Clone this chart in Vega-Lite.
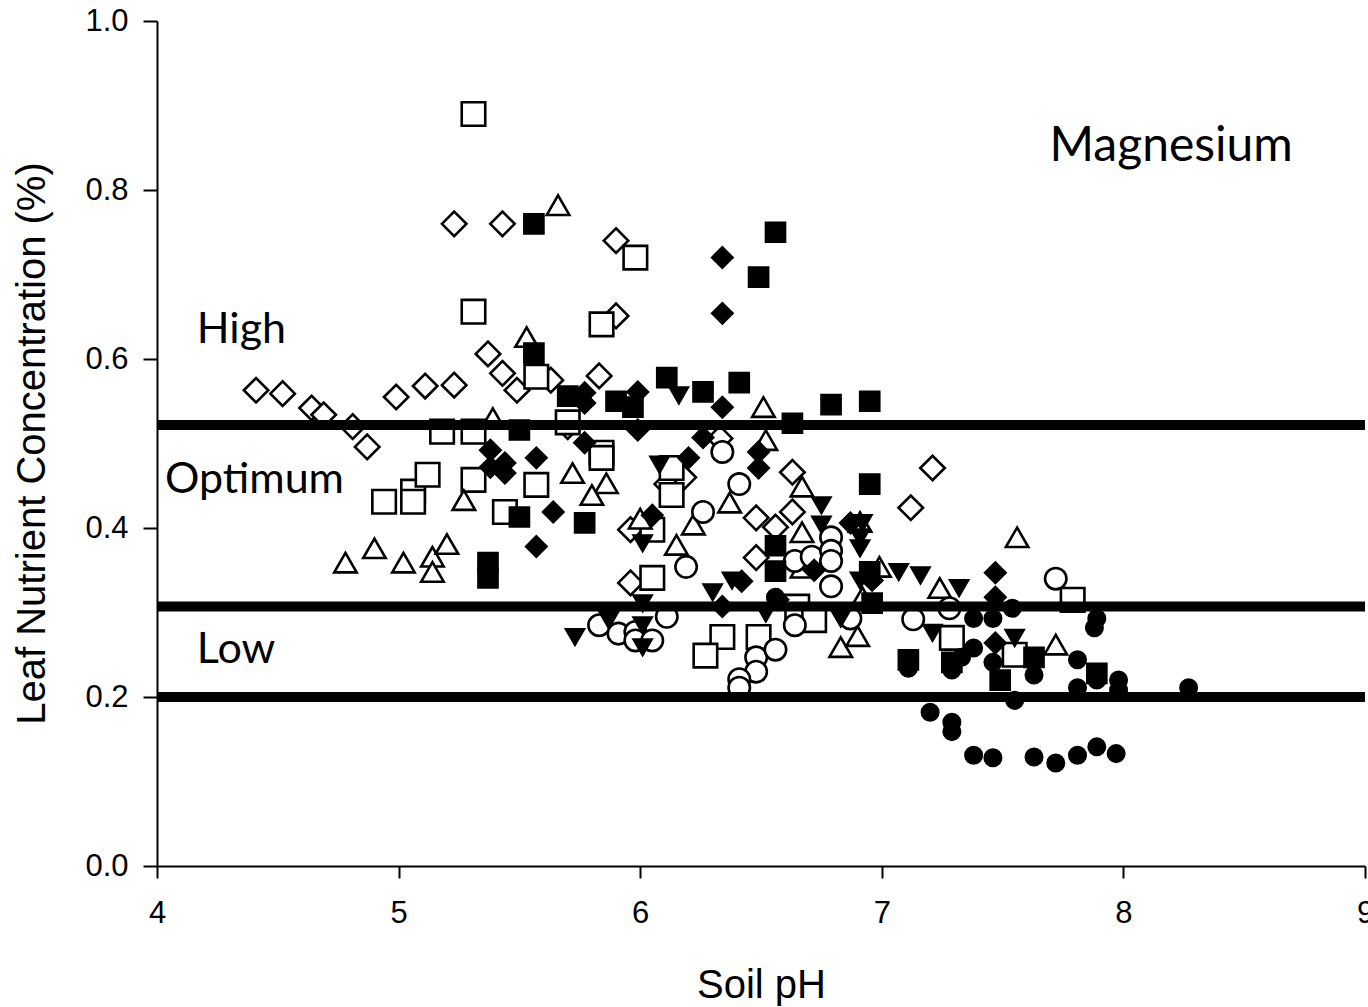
{
  "$schema": "https://vega.github.io/schema/vega-lite/v6.json",
  "width": 1208,
  "height": 845,
  "autosize": {"type": "none"},
  "padding": {"left": 157, "top": 21, "right": 3, "bottom": 141},
  "background": "white",
  "config": {
    "view": {"stroke": null},
    "axis": {
      "grid": false,
      "domainColor": "black",
      "domainWidth": 2,
      "tickColor": "black",
      "tickWidth": 2,
      "labelFont": "Liberation Sans",
      "labelFontSize": 31,
      "labelColor": "black",
      "labelFlush": false,
      "titleFont": "Liberation Sans",
      "titleFontSize": 40,
      "titleFontWeight": "normal",
      "titleColor": "black"
    }
  },
  "datasets": {
    "points": [
      {"pH":4.41,"Mg":0.563,"g":"od"},{"pH":4.52,"Mg":0.559,"g":"od"},{"pH":4.64,"Mg":0.542,"g":"od"},{"pH":4.69,"Mg":0.534,"g":"od"},{"pH":4.81,"Mg":0.520,"g":"od"},{"pH":4.87,"Mg":0.496,"g":"od"},{"pH":4.99,"Mg":0.555,"g":"od"},{"pH":5.11,"Mg":0.568,"g":"od"},{"pH":5.23,"Mg":0.569,"g":"od"},{"pH":5.23,"Mg":0.760,"g":"od"},{"pH":5.43,"Mg":0.760,"g":"od"},{"pH":5.37,"Mg":0.606,"g":"od"},{"pH":5.43,"Mg":0.583,"g":"od"},{"pH":5.49,"Mg":0.563,"g":"od"},{"pH":5.63,"Mg":0.575,"g":"od"},{"pH":5.83,"Mg":0.580,"g":"od"},{"pH":5.90,"Mg":0.651,"g":"od"},{"pH":5.90,"Mg":0.740,"g":"od"},{"pH":5.70,"Mg":0.520,"g":"od"},{"pH":6.33,"Mg":0.506,"g":"od"},{"pH":5.96,"Mg":0.398,"g":"od"},{"pH":6.11,"Mg":0.452,"g":"od"},{"pH":6.18,"Mg":0.460,"g":"od"},{"pH":6.48,"Mg":0.412,"g":"od"},{"pH":5.96,"Mg":0.335,"g":"od"},{"pH":6.48,"Mg":0.365,"g":"od"},{"pH":6.63,"Mg":0.466,"g":"od"},{"pH":6.63,"Mg":0.419,"g":"od"},{"pH":6.56,"Mg":0.401,"g":"od"},{"pH":7.21,"Mg":0.471,"g":"od"},{"pH":7.12,"Mg":0.424,"g":"od"},
      {"pH":5.31,"Mg":0.890,"g":"os"},{"pH":5.31,"Mg":0.656,"g":"os"},{"pH":5.98,"Mg":0.720,"g":"os"},{"pH":5.84,"Mg":0.641,"g":"os"},{"pH":5.57,"Mg":0.579,"g":"os"},{"pH":5.70,"Mg":0.525,"g":"os"},{"pH":5.18,"Mg":0.514,"g":"os"},{"pH":5.31,"Mg":0.514,"g":"os"},{"pH":4.94,"Mg":0.431,"g":"os"},{"pH":5.06,"Mg":0.443,"g":"os"},{"pH":5.06,"Mg":0.431,"g":"os"},{"pH":5.12,"Mg":0.463,"g":"os"},{"pH":5.31,"Mg":0.457,"g":"os"},{"pH":5.44,"Mg":0.419,"g":"os"},{"pH":5.57,"Mg":0.451,"g":"os"},{"pH":5.84,"Mg":0.489,"g":"os"},{"pH":5.84,"Mg":0.483,"g":"os"},{"pH":6.13,"Mg":0.471,"g":"os"},{"pH":6.13,"Mg":0.439,"g":"os"},{"pH":6.05,"Mg":0.398,"g":"os"},{"pH":6.05,"Mg":0.341,"g":"os"},{"pH":6.34,"Mg":0.271,"g":"os"},{"pH":6.27,"Mg":0.249,"g":"os"},{"pH":6.49,"Mg":0.271,"g":"os"},{"pH":6.65,"Mg":0.307,"g":"os"},{"pH":6.72,"Mg":0.291,"g":"os"},{"pH":7.29,"Mg":0.270,"g":"os"},{"pH":7.55,"Mg":0.250,"g":"os"},{"pH":7.79,"Mg":0.315,"g":"os"},
      {"pH":5.66,"Mg":0.782,"g":"ot"},{"pH":5.53,"Mg":0.626,"g":"ot"},{"pH":5.39,"Mg":0.530,"g":"ot"},{"pH":5.27,"Mg":0.433,"g":"ot"},{"pH":4.78,"Mg":0.359,"g":"ot"},{"pH":4.90,"Mg":0.376,"g":"ot"},{"pH":5.02,"Mg":0.359,"g":"ot"},{"pH":5.14,"Mg":0.366,"g":"ot"},{"pH":5.14,"Mg":0.348,"g":"ot"},{"pH":5.20,"Mg":0.381,"g":"ot"},{"pH":5.72,"Mg":0.465,"g":"ot"},{"pH":5.86,"Mg":0.453,"g":"ot"},{"pH":5.80,"Mg":0.439,"g":"ot"},{"pH":6.00,"Mg":0.411,"g":"ot"},{"pH":6.22,"Mg":0.404,"g":"ot"},{"pH":6.15,"Mg":0.380,"g":"ot"},{"pH":6.37,"Mg":0.430,"g":"ot"},{"pH":6.51,"Mg":0.543,"g":"ot"},{"pH":6.52,"Mg":0.504,"g":"ot"},{"pH":6.67,"Mg":0.449,"g":"ot"},{"pH":6.67,"Mg":0.395,"g":"ot"},{"pH":6.67,"Mg":0.353,"g":"ot"},{"pH":6.91,"Mg":0.407,"g":"ot"},{"pH":6.99,"Mg":0.354,"g":"ot"},{"pH":7.24,"Mg":0.329,"g":"ot"},{"pH":6.83,"Mg":0.259,"g":"ot"},{"pH":6.90,"Mg":0.272,"g":"ot"},{"pH":7.56,"Mg":0.389,"g":"ot"},{"pH":7.72,"Mg":0.262,"g":"ot"},{"pH":6.92,"Mg":0.318,"g":"ot"},
      {"pH":6.34,"Mg":0.490,"g":"oc"},{"pH":6.41,"Mg":0.452,"g":"oc"},{"pH":6.26,"Mg":0.419,"g":"oc"},{"pH":6.19,"Mg":0.354,"g":"oc"},{"pH":6.11,"Mg":0.295,"g":"oc"},{"pH":5.83,"Mg":0.285,"g":"oc"},{"pH":5.91,"Mg":0.275,"g":"oc"},{"pH":5.98,"Mg":0.277,"g":"oc"},{"pH":5.98,"Mg":0.267,"g":"oc"},{"pH":6.05,"Mg":0.267,"g":"oc"},{"pH":6.48,"Mg":0.247,"g":"oc"},{"pH":6.48,"Mg":0.230,"g":"oc"},{"pH":6.41,"Mg":0.221,"g":"oc"},{"pH":6.41,"Mg":0.211,"g":"oc"},{"pH":6.56,"Mg":0.256,"g":"oc"},{"pH":6.64,"Mg":0.361,"g":"oc"},{"pH":6.71,"Mg":0.366,"g":"oc"},{"pH":6.79,"Mg":0.389,"g":"oc"},{"pH":6.79,"Mg":0.373,"g":"oc"},{"pH":6.79,"Mg":0.361,"g":"oc"},{"pH":6.79,"Mg":0.331,"g":"oc"},{"pH":6.64,"Mg":0.285,"g":"oc"},{"pH":6.87,"Mg":0.293,"g":"oc"},{"pH":7.13,"Mg":0.292,"g":"oc"},{"pH":7.28,"Mg":0.305,"g":"oc"},{"pH":7.72,"Mg":0.340,"g":"oc"},
      {"pH":6.34,"Mg":0.720,"g":"fd"},{"pH":6.34,"Mg":0.654,"g":"fd"},{"pH":6.34,"Mg":0.543,"g":"fd"},{"pH":5.77,"Mg":0.560,"g":"fd"},{"pH":5.77,"Mg":0.548,"g":"fd"},{"pH":5.99,"Mg":0.561,"g":"fd"},{"pH":5.99,"Mg":0.516,"g":"fd"},{"pH":5.38,"Mg":0.492,"g":"fd"},{"pH":5.38,"Mg":0.472,"g":"fd"},{"pH":5.44,"Mg":0.477,"g":"fd"},{"pH":5.44,"Mg":0.465,"g":"fd"},{"pH":5.57,"Mg":0.483,"g":"fd"},{"pH":5.77,"Mg":0.501,"g":"fd"},{"pH":5.64,"Mg":0.419,"g":"fd"},{"pH":5.57,"Mg":0.378,"g":"fd"},{"pH":6.05,"Mg":0.415,"g":"fd"},{"pH":6.20,"Mg":0.483,"g":"fd"},{"pH":6.26,"Mg":0.507,"g":"fd"},{"pH":6.49,"Mg":0.490,"g":"fd"},{"pH":6.49,"Mg":0.471,"g":"fd"},{"pH":6.42,"Mg":0.337,"g":"fd"},{"pH":6.34,"Mg":0.307,"g":"fd"},{"pH":6.57,"Mg":0.315,"g":"fd"},{"pH":6.72,"Mg":0.350,"g":"fd"},{"pH":6.87,"Mg":0.406,"g":"fd"},{"pH":6.96,"Mg":0.338,"g":"fd"},{"pH":7.47,"Mg":0.347,"g":"fd"},{"pH":7.47,"Mg":0.318,"g":"fd"},{"pH":7.47,"Mg":0.264,"g":"fd"},
      {"pH":5.56,"Mg":0.760,"g":"fs"},{"pH":6.56,"Mg":0.750,"g":"fs"},{"pH":6.49,"Mg":0.697,"g":"fs"},{"pH":5.56,"Mg":0.607,"g":"fs"},{"pH":6.11,"Mg":0.578,"g":"fs"},{"pH":6.41,"Mg":0.572,"g":"fs"},{"pH":6.26,"Mg":0.561,"g":"fs"},{"pH":5.70,"Mg":0.556,"g":"fs"},{"pH":5.90,"Mg":0.550,"g":"fs"},{"pH":5.97,"Mg":0.543,"g":"fs"},{"pH":6.79,"Mg":0.546,"g":"fs"},{"pH":6.95,"Mg":0.550,"g":"fs"},{"pH":6.63,"Mg":0.524,"g":"fs"},{"pH":5.50,"Mg":0.516,"g":"fs"},{"pH":5.50,"Mg":0.413,"g":"fs"},{"pH":5.77,"Mg":0.406,"g":"fs"},{"pH":5.37,"Mg":0.359,"g":"fs"},{"pH":5.37,"Mg":0.341,"g":"fs"},{"pH":6.95,"Mg":0.452,"g":"fs"},{"pH":6.56,"Mg":0.379,"g":"fs"},{"pH":6.56,"Mg":0.349,"g":"fs"},{"pH":6.95,"Mg":0.348,"g":"fs"},{"pH":6.96,"Mg":0.311,"g":"fs"},{"pH":7.11,"Mg":0.244,"g":"fs"},{"pH":7.29,"Mg":0.241,"g":"fs"},{"pH":7.49,"Mg":0.220,"g":"fs"},{"pH":7.63,"Mg":0.247,"g":"fs"},{"pH":7.89,"Mg":0.228,"g":"fs"},
      {"pH":6.16,"Mg":0.557,"g":"fv"},{"pH":6.08,"Mg":0.475,"g":"fv"},{"pH":6.01,"Mg":0.382,"g":"fv"},{"pH":6.01,"Mg":0.311,"g":"fv"},{"pH":6.01,"Mg":0.285,"g":"fv"},{"pH":6.01,"Mg":0.259,"g":"fv"},{"pH":5.73,"Mg":0.271,"g":"fv"},{"pH":5.87,"Mg":0.291,"g":"fv"},{"pH":6.30,"Mg":0.324,"g":"fv"},{"pH":6.38,"Mg":0.338,"g":"fv"},{"pH":6.52,"Mg":0.299,"g":"fv"},{"pH":6.75,"Mg":0.427,"g":"fv"},{"pH":6.75,"Mg":0.404,"g":"fv"},{"pH":6.92,"Mg":0.406,"g":"fv"},{"pH":6.91,"Mg":0.389,"g":"fv"},{"pH":6.91,"Mg":0.376,"g":"fv"},{"pH":6.91,"Mg":0.338,"g":"fv"},{"pH":7.07,"Mg":0.348,"g":"fv"},{"pH":7.16,"Mg":0.344,"g":"fv"},{"pH":7.32,"Mg":0.329,"g":"fv"},{"pH":6.83,"Mg":0.293,"g":"fv"},{"pH":7.21,"Mg":0.276,"g":"fv"},{"pH":7.55,"Mg":0.270,"g":"fv"},
      {"pH":6.56,"Mg":0.318,"g":"fc"},{"pH":7.38,"Mg":0.293,"g":"fc"},{"pH":7.46,"Mg":0.293,"g":"fc"},{"pH":7.54,"Mg":0.305,"g":"fc"},{"pH":7.89,"Mg":0.293,"g":"fc"},{"pH":7.88,"Mg":0.282,"g":"fc"},{"pH":7.38,"Mg":0.258,"g":"fc"},{"pH":7.46,"Mg":0.241,"g":"fc"},{"pH":7.63,"Mg":0.226,"g":"fc"},{"pH":7.81,"Mg":0.244,"g":"fc"},{"pH":7.89,"Mg":0.220,"g":"fc"},{"pH":7.98,"Mg":0.220,"g":"fc"},{"pH":7.81,"Mg":0.211,"g":"fc"},{"pH":7.98,"Mg":0.208,"g":"fc"},{"pH":8.27,"Mg":0.211,"g":"fc"},{"pH":7.55,"Mg":0.196,"g":"fc"},{"pH":7.20,"Mg":0.182,"g":"fc"},{"pH":7.29,"Mg":0.170,"g":"fc"},{"pH":7.29,"Mg":0.159,"g":"fc"},{"pH":7.38,"Mg":0.131,"g":"fc"},{"pH":7.46,"Mg":0.128,"g":"fc"},{"pH":7.63,"Mg":0.129,"g":"fc"},{"pH":7.72,"Mg":0.122,"g":"fc"},{"pH":7.81,"Mg":0.131,"g":"fc"},{"pH":7.89,"Mg":0.141,"g":"fc"},{"pH":7.97,"Mg":0.133,"g":"fc"},{"pH":7.11,"Mg":0.234,"g":"fc"},{"pH":7.29,"Mg":0.232,"g":"fc"},{"pH":7.33,"Mg":0.247,"g":"fc"}
    ],
    "limits": [{"Mg": 0.522}, {"Mg": 0.307}, {"Mg": 0.2}],
    "zones": [
      {"pH": 4.165, "Mg": 0.634, "label": "High"},
      {"pH": 4.033, "Mg": 0.457, "label": "Optimum"},
      {"pH": 4.165, "Mg": 0.256, "label": "Low"}
    ],
    "nutrient": [{"pH": 7.694, "Mg": 0.851, "label": "Magnesium"}]
  },
  "layer": [
    {
      "data": {"name": "points"},
      "mark": {"type": "point", "filled": true, "stroke": "black", "strokeWidth": 2.6, "opacity": 1},
      "encoding": {
        "x": {"field": "pH", "type": "quantitative", "title": "Soil pH",
          "scale": {"domain": [4, 9], "nice": false, "zero": false},
          "axis": {"values": [4,5,6,7,8,9], "format": "d", "tickSize": 12, "labelPadding": 20, "titleY": 119, "titleBaseline": "middle"}},
        "y": {"field": "Mg", "type": "quantitative", "title": "Leaf Nutrient Concentration (%)",
          "scale": {"domain": [0, 1], "nice": false},
          "axis": {"values": [0,0.2,0.4,0.6,0.8,1.0], "format": ".1f", "tickSize": 14, "labelPadding": 15, "titleX": -125, "titleY": 422, "titleBaseline": "middle", "titleAlign": "center"}},
        "shape": {"field": "g", "type": "nominal", "legend": null,
          "scale": {"domain": ["od","os","ot","oc","fd","fs","fv","fc"],
                    "range": ["diamond","square","triangle-up","circle","diamond","square","triangle-down","circle"]}},
        "fill": {"field": "g", "type": "nominal", "legend": null,
          "scale": {"domain": ["od","os","ot","oc","fd","fs","fv","fc"],
                    "range": ["white","white","white","white","black","black","black","black"]}},
        "size": {"field": "g", "type": "nominal", "legend": null,
          "scale": {"domain": ["od","os","ot","oc","fd","fs","fv","fc"],
                    "range": [600, 270, 420, 270, 600, 290, 420, 280]}}
      }
    },
    {
      "data": {"name": "limits"},
      "mark": {"type": "rule", "color": "black", "strokeWidth": 10},
      "encoding": {"y": {"field": "Mg", "type": "quantitative"}}
    },
    {
      "data": {"name": "zones"},
      "mark": {"type": "text", "align": "left", "baseline": "middle", "font": "Lato", "fontSize": 43, "color": "black"},
      "encoding": {
        "x": {"field": "pH", "type": "quantitative"},
        "y": {"field": "Mg", "type": "quantitative"},
        "text": {"field": "label", "type": "nominal"}
      }
    },
    {
      "data": {"name": "nutrient"},
      "mark": {"type": "text", "align": "left", "baseline": "middle", "font": "Lato", "fontSize": 48, "color": "black"},
      "encoding": {
        "x": {"field": "pH", "type": "quantitative"},
        "y": {"field": "Mg", "type": "quantitative"},
        "text": {"field": "label", "type": "nominal"}
      }
    }
  ]
}
